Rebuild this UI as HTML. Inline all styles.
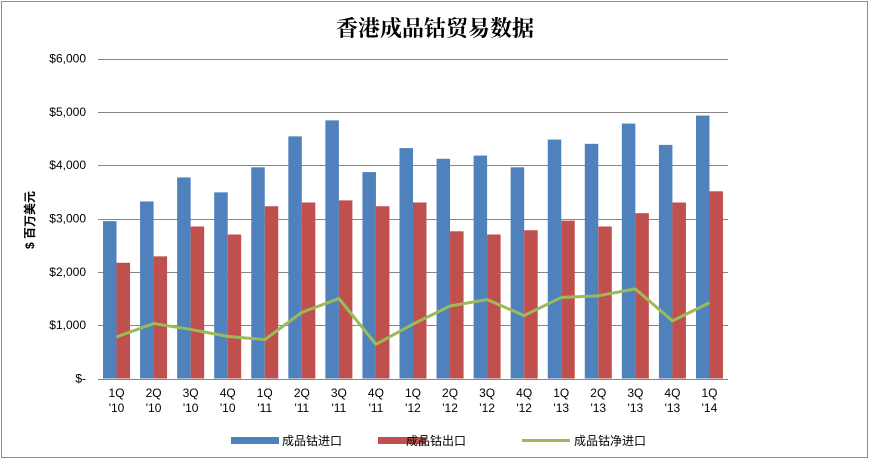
<!DOCTYPE html>
<html><head><meta charset="utf-8"><style>
body{margin:0;background:#fff;}
svg text{font-family:"Liberation Sans","Noto Sans CJK SC",sans-serif;}
</style></head><body>
<svg width="870" height="461">
<rect x="1.5" y="1.5" width="866" height="456" fill="#fff" stroke="#8c8c8c"/>
<text x="435" y="36" text-anchor="middle" font-size="22" font-weight="bold" style="font-family:'Liberation Serif','Noto Serif CJK SC',serif">香港成品钴贸易数据</text>
<text transform="translate(34,220) rotate(-90)" text-anchor="middle" font-size="12" font-weight="bold">$ 百万美元</text>
<g id="grid"></g><g id="bars"></g><g id="line"></g><g id="xlabels"></g>
<g>
<rect x="231" y="437" width="48" height="7" fill="#4f81bd"/>
<text x="282" y="445" font-size="12">成品钴进口</text>
<rect x="378" y="437" width="48" height="7" fill="#c0504d"/>
<text x="406" y="445" font-size="12">成品钴出口</text>
<line x1="522" y1="440.5" x2="570" y2="440.5" stroke="#9bbb59" stroke-width="3"/>
<text x="574" y="445" font-size="12">成品钴净进口</text>
</g>
</svg>
<script>
const quarters=["1Q","2Q","3Q","4Q","1Q","2Q","3Q","4Q","1Q","2Q","3Q","4Q","1Q","2Q","3Q","4Q","1Q"];
const years=["'10","'10","'10","'10","'11","'11","'11","'11","'12","'12","'12","'12","'13","'13","'13","'13","'14"];
const imports=[2950,3320,3770,3490,3960,4540,4840,3870,4320,4120,4180,3960,4480,4400,4780,4380,4930];
const exportsV=[2170,2290,2850,2700,3230,3300,3340,3230,3300,2760,2700,2780,2960,2850,3100,3300,3510];
const net=[780,1030,920,790,730,1240,1500,640,1020,1360,1480,1180,1520,1550,1680,1080,1420];
const yTicks=[0,1000,2000,3000,4000,5000,6000];
const yTickLabels=["$-","$1,000","$2,000","$3,000","$4,000","$5,000","$6,000"];
const NS="http://www.w3.org/2000/svg";
const X0=98,X1=728,Y0=378.5,Y1=58.5,YMAX=6000;
const cw=(X1-X0)/quarters.length;
const y=v=>Y0-(v/YMAX)*(Y0-Y1);
const xc=i=>X0+cw*(i+0.5);
function mk(t,a,p){const e=document.createElementNS(NS,t);for(const k in a)e.setAttribute(k,a[k]);p.appendChild(e);return e;}
const grid=document.getElementById('grid');
yTicks.forEach((v,i)=>{
 const l=mk('line',{x1:X0,x2:X1,y1:Math.round(y(v))+0.5,y2:Math.round(y(v))+0.5,stroke:i==0?'#868686':'#868686'},grid);
 
 
 const t=mk('text',{x:86,y:y(v)+4,'text-anchor':'end','font-size':12},grid);t.textContent=yTickLabels[i];
 
 
});
const bars=document.getElementById('bars');const bw=13.5;
quarters.forEach((q,i)=>{
 const c=xc(i);
 const b=mk('rect',{x:c-bw,y:y(imports[i]),width:bw,height:Y0-y(imports[i]),fill:'#4f81bd'},bars);
 
 
 const r=mk('rect',{x:c,y:y(exportsV[i]),width:bw,height:Y0-y(exportsV[i]),fill:'#c0504d'},bars);
 
 
 const xl=document.getElementById('xlabels');
 const t1=mk('text',{x:c,y:397,'text-anchor':'middle','font-size':12},xl);t1.textContent=q;
 
 
 const t2=mk('text',{x:c,y:412,'text-anchor':'middle','font-size':12},xl);t2.textContent=years[i];
 
 
});
const p=mk('polyline',{points:net.map((v,i)=>xc(i)+','+y(v)).join(' '),fill:'none',stroke:'#9bbb59','stroke-width':3,'stroke-linejoin':'round'},document.getElementById('line'));


</script>
</body></html>
